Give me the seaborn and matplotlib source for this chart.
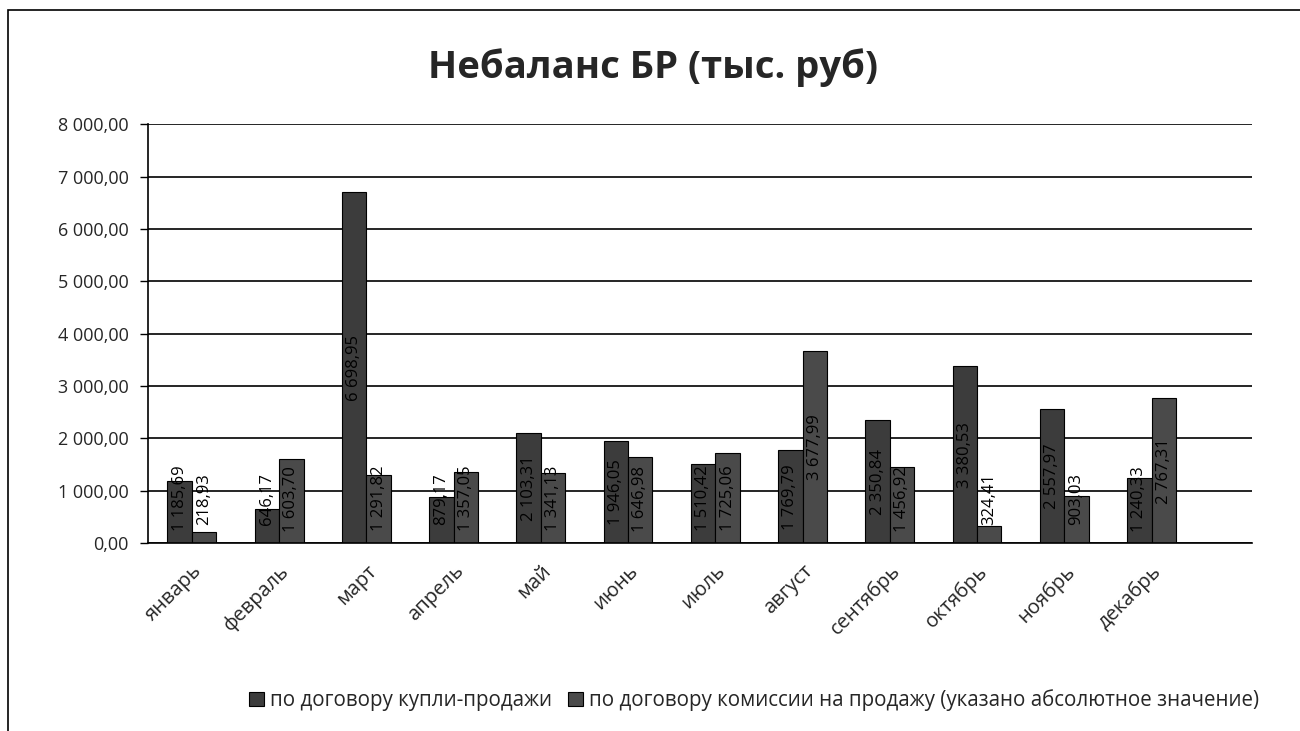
import pandas as pd
import numpy as np
import matplotlib.pyplot as plt
import seaborn as sns
from matplotlib.patches import Rectangle

# Data (тыс. руб)
months = ["январь", "февраль", "март", "апрель", "май", "июнь",
          "июль", "август", "сентябрь", "октябрь", "ноябрь", "декабрь"]
sales = [1185.69, 646.17, 6698.95, 879.17, 2103.31, 1946.05,
         1510.42, 1769.79, 2350.84, 3380.53, 2557.97, 1240.33]
commission = [218.93, 1603.70, 1291.82, 1357.05, 1341.13, 1646.98,
              1725.06, 3677.99, 1456.92, 324.41, 903.03, 2767.31]
series_names = ["по договору купли-продажи",
                "по договору комиссии на продажу (указано абсолютное значение)"]
yticks = np.arange(0, 8001, 1000)

sns.set_style("white")
plt.rcParams['font.family'] = ['Open Sans', 'DejaVu Sans']

df = pd.DataFrame({
    "month": months * 2,
    "value": sales + commission,
    "series": [series_names[0]] * 12 + [series_names[1]] * 12,
})


def ru_fmt(v):
    return f"{v:,.2f}".replace(",", " ").replace(".", ",")


fig = plt.figure(figsize=(13, 7.31), dpi=100)
ax = fig.add_axes([0.114, 0.257, 0.849, 0.573])

sns.barplot(data=df, x="month", y="value", hue="series", order=months,
            palette=["#3c3c3c", "#4a4a4a"], width=0.56, gap=0,
            edgecolor="black", linewidth=0.8, ax=ax, legend=True)

# data labels, rotated, roughly centred in the bars
for cont in ax.containers:
    for bar in cont:
        v = bar.get_height()
        xc = bar.get_x() + bar.get_width() / 2
        yc = max(v / 2, 850)
        ax.text(xc, yc, ru_fmt(v), rotation=90, ha="center", va="center",
                fontsize=12, color="black")

ax.set_ylim(0, 8000)
ax.set_xlim(-0.5, 12.15)
ax.set_yticks(yticks)
ax.set_yticklabels([ru_fmt(v) for v in yticks], fontsize=13)
ax.yaxis.grid(True, color="black", linewidth=1.2)
ax.set_axisbelow(True)

# category boundaries as ticks, labels at centres
ax.set_xticks(np.arange(-0.5, 12.5, 1.0))
ax.set_xticklabels([])
ax.set_xticks(np.arange(12), minor=True)
ax.set_xticklabels(months, minor=True, rotation=45, ha="right",
                   rotation_mode="anchor", fontsize=14.5)
ax.tick_params(axis="x", which="major", direction="out", length=7, width=1, color="black")
ax.tick_params(axis="x", which="minor", length=0, pad=13)
ax.tick_params(axis="y", direction="out", length=6, width=1, color="black", pad=8, left=True)
ax.set_xlabel("")
ax.set_ylabel("")

for side in ["top", "right"]:
    ax.spines[side].set_visible(False)
for side in ["left", "bottom"]:
    ax.spines[side].set_color("black")
    ax.spines[side].set_linewidth(1.2)

handles, labels = ax.get_legend_handles_labels()
ax.get_legend().remove()
fig.legend(handles, labels, loc="center", bbox_to_anchor=(0.58, 0.042), ncol=2,
           frameon=False, fontsize=14.8, handlelength=0.7, handleheight=0.7,
           handletextpad=0.3, columnspacing=0.8)

fig.text(0.502, 0.907, "Небаланс БР (тыс. руб)", ha="center", va="center",
         fontsize=27.5, fontweight="bold")

# chart area frame like the scanned sheet
fig.patches.append(Rectangle((0.006, -0.02), 1.2, 1.006, transform=fig.transFigure,
                             fill=False, edgecolor="black", linewidth=1.2))

plt.savefig("out.png", dpi=100)
